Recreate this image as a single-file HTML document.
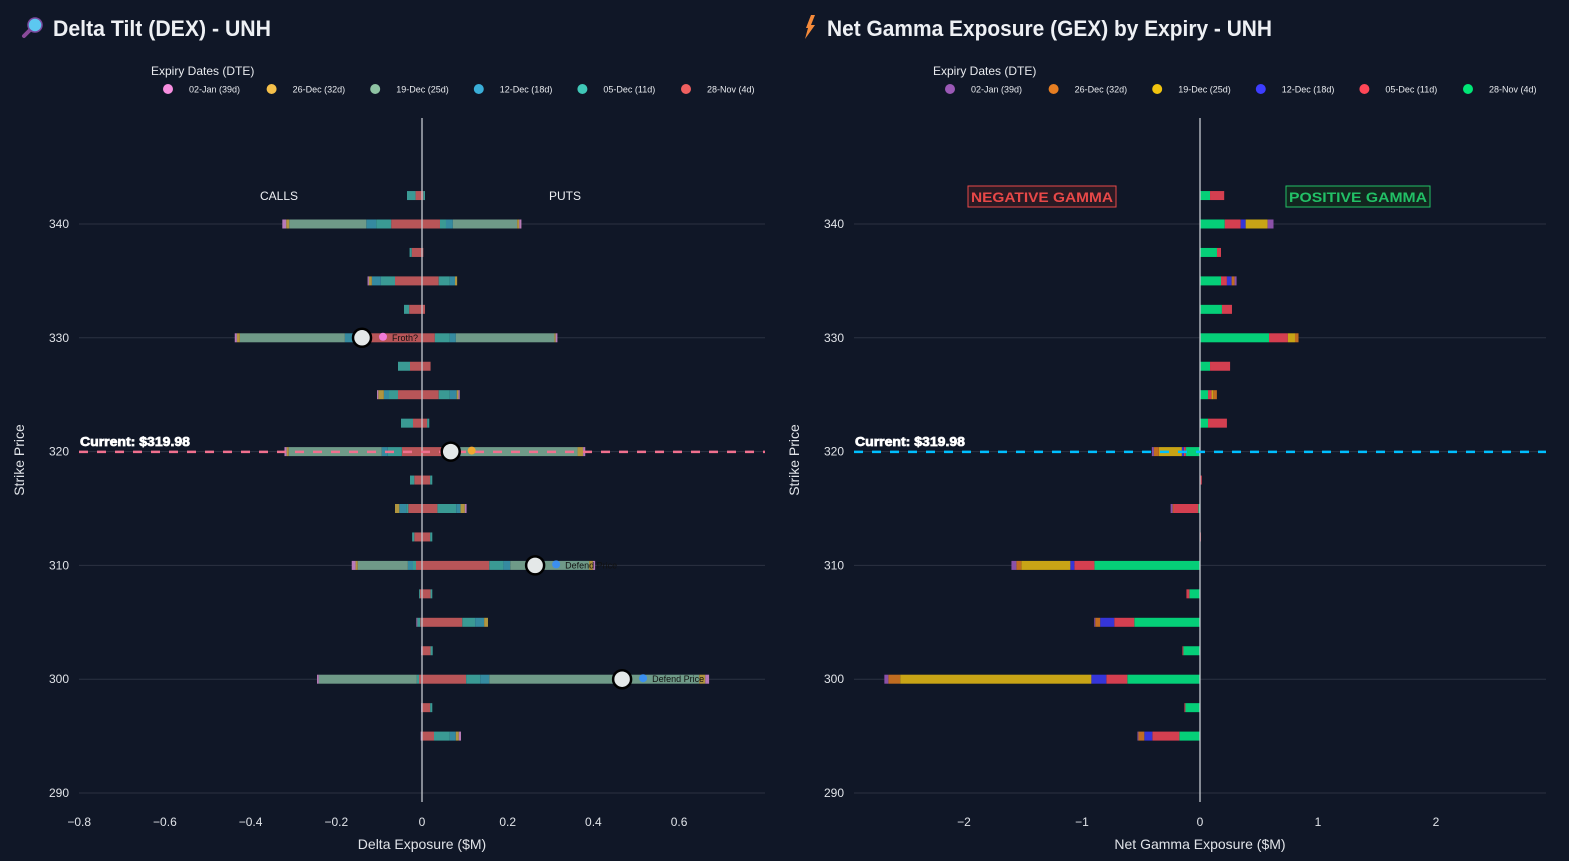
<!DOCTYPE html>
<html><head><meta charset="utf-8">
<style>
html,body{margin:0;padding:0;background:#101727;}
svg{display:block;font-family:"Liberation Sans",sans-serif;}
</style></head>
<body>
<svg id="root" width="1569" height="861" viewBox="0 0 1569 861" xmlns="http://www.w3.org/2000/svg">
<rect width="1569" height="861" fill="#101727"/>
</svg>
<script>
// ---------- shared data ----------
const strikes = [342.5,340,337.5,335,332.5,330,327.5,325,322.5,320,317.5,315,312.5,310,307.5,305,302.5,300,297.5,295];
const expiryLabels = ["28-Nov (4d)","05-Dec (11d)","12-Dec (18d)","19-Dec (25d)","26-Dec (32d)","02-Jan (39d)"];
const currentPrice = 319.98;
const yTicks = [340,330,320,310,300,290];

// ---------- DEX data (magnitudes, $M) ----------
const nov28Calls = [0.015,0.072,0.024,0.063,0.03,0.12,0.028,0.056,0.021,0.047,0.018,0.032,0.018,0.014,0.005,0.004,0,0.007,0,0];
const dec05Calls = [0.02,0.035,0.005,0.033,0.012,0.03,0.028,0.021,0.028,0.033,0.01,0.005,0.005,0.007,0.002,0.007,0,0.005,0,0];
const dec12Calls = [0,0.023,0,0.021,0,0.03,0,0.012,0,0.014,0,0.016,0,0.012,0,0,0,0,0,0];
const dec19Calls = [0,0.18,0,0,0,0.245,0,0,0,0.217,0,0,0,0.117,0,0,0,0.229,0,0];
const dec26Calls = [0,0.007,0,0.007,0,0.007,0,0.013,0,0.005,0,0.01,0,0.005,0,0,0,0,0,0];
const jan02Calls = [0,0.009,0,0.003,0,0.005,0,0.003,0,0.005,0,0,0,0.009,0,0.002,0.002,0.004,0.002,0.003];
const nov28Puts = [0.003,0.042,0.003,0.039,0.007,0.03,0.02,0.039,0.012,0.045,0.019,0.036,0.019,0.157,0.02,0.094,0.02,0.103,0.019,0.028];
const dec05Puts = [0.004,0.014,0,0.026,0,0.035,0,0.026,0.005,0.025,0.005,0.044,0.005,0.033,0.004,0.03,0.005,0.033,0.005,0.037];
const dec12Puts = [0,0.016,0,0.012,0,0.014,0,0.016,0,0.02,0,0.01,0,0.016,0,0.021,0,0.021,0,0.014];
const dec19Puts = [0,0.15,0,0,0,0.23,0,0,0,0.273,0,0,0,0.184,0,0,0,0.49,0,0];
const dec26Puts = [0,0.005,0,0.005,0,0.003,0,0.004,0,0.013,0,0.01,0,0.009,0,0.009,0,0.014,0,0.007];
const jan02Puts = [0,0.005,0,0,0,0.004,0,0.003,0,0.005,0,0.004,0,0.005,0,0,0,0.009,0,0.005];
const dexXTicks = [-0.8,-0.6,-0.4,-0.2,0,0.2,0.4,0.6];
const markerStrikes = [330,320,310,300];
const markerValues = [-0.14,0.067,0.264,0.467];
const markerLabels = ["Froth?","","Defend Price","Defend Price"];

// ---------- GEX data (signed, $M) ----------
const gexNov28 = [0.085,0.21,0.144,0.178,0.186,0.585,0.085,0.068,0.068,-0.12,0,-0.014,0,-0.895,-0.09,-0.557,-0.141,-0.616,-0.124,-0.175];
const gexDec05 = [0.12,0.135,0.034,0.05,0.085,0.16,0.17,0.03,0.16,-0.017,0.015,-0.21,0.008,-0.17,-0.025,-0.17,-0.008,-0.178,-0.008,-0.229];
const gexDec12 = [0,0.042,0,0.04,0,0,0,0,0,-0.017,0,0,0,-0.034,0,-0.119,0,-0.127,0,-0.068];
const gexDec19 = [0,0.186,0,0,0,0.06,0,0.015,0,-0.195,0,0,0,-0.415,0,0,0,-1.62,0,0];
const gexDec26 = [0,0,0,0.025,0,0.03,0,0.03,0,-0.042,0,-0.008,0,-0.042,0,-0.042,0,-0.1,0,-0.05];
const gexJan02 = [0,0.05,0,0.017,0,0,0,0,0,-0.017,0,-0.017,0,-0.042,0,-0.008,0,-0.034,0,-0.008];
const gexXTicks = [-2,-1,0,1,2];

// ---------- rendering ----------
const NS = "http://www.w3.org/2000/svg";
const root = document.getElementById("root");
function mk(tag, attrs, parent, text){
  const e = document.createElementNS(NS, tag);
  for (const k in attrs) e.setAttribute(k, attrs[k]);
  if (text !== undefined) e.textContent = text;
  (parent || root).appendChild(e);
  return e;
}
const yScale = v => 224 + (340 - v) * 11.38;
const fmt = v => (v < 0 ? "\u2212" : "") + Math.abs(v);

function drawPanel(o){
  const g = mk("g", {});
  
  
  const xs = v => o.x0 + v * o.ppu;
  const t = mk("text", {x:o.titleX, y:36, fill:"#eef0f4", "font-size":22, "font-weight":"bold", textLength:o.titleW, lengthAdjust:"spacingAndGlyphs"}, g, o.title);
  
  
  const lg = mk("g", {}, g);
  
  
  mk("text", {x:o.legX, y:75, fill:"#e8eaee", "font-size":12}, lg, "Expiry Dates (DTE)");
  for (let i = 0; i < 6; i++){
    const idx = 5 - i;
    const it = mk("g", {}, lg);
    
    
    mk("circle", {cx:o.legX + 17 + i*103.6, cy:89, r:5, fill:o.legColors[idx]}, it);
    mk("text", {x:o.legX + 38 + i*103.6, y:92.5, fill:"#e8eaee", "font-size":9}, it, expiryLabels[idx]);
  }
  yTicks.forEach(v => {
    const l = mk("line", {x1:o.left, x2:o.right, y1:yScale(v), y2:yScale(v), stroke:"#2b3242", "stroke-width":1}, g);
    
    
    const tl = mk("text", {x:o.left - 10, y:yScale(v) + 4, fill:"#e0e3e8", "font-size":12, "text-anchor":"end"}, g, String(v));
    
    
  });
  o.xticks.forEach(v => {
    const tl = mk("text", {x:xs(v), y:826, fill:"#e0e3e8", "font-size":12, "text-anchor":"middle"}, g, fmt(v));
    
    
  });
  const xt = mk("text", {x:(o.left+o.right)/2, y:849, fill:"#e0e3e8", "font-size":14, "text-anchor":"middle"}, g, o.xTitle);
  
  
  const yt = mk("text", {x:0, y:0, fill:"#e0e3e8", "font-size":14, "text-anchor":"middle", transform:`translate(${o.left-55},460) rotate(-90)`}, g, "Strike Price");
  
  
  const bh = 9;
  strikes.forEach((s, i) => {
    let pos = 0, neg = 0;
    o.series.forEach((ser, k) => {
      let v = ser[i];
      if (!v) return;
      let a, b;
      if (v > 0){ a = pos; b = pos + v; pos = b; } else { a = neg + v; b = neg; neg = a; }
      const r = mk("rect", {x:xs(a), y:yScale(s) - bh/2, width:Math.max(0.6, xs(b) - xs(a)), height:bh, fill:o.barColors[k % 6]}, g);
      
      
    });
  });
  const z = mk("line", {x1:xs(0), x2:xs(0), y1:118, y2:802, stroke:"#c8ccd2", "stroke-width":1.5, opacity:0.85}, g);
  
  
  const cl = mk("line", {x1:o.left, x2:o.right, y1:yScale(currentPrice), y2:yScale(currentPrice), stroke:o.curColor, "stroke-width":2.5, "stroke-dasharray":"9,9"}, g);
  
  
  const ct = mk("text", {x:o.left + 1, y:yScale(currentPrice) - 6, fill:"#ffffff", "font-size":13, "font-weight":"bold", stroke:"#ffffff", "stroke-width":0.7, textLength:110, lengthAdjust:"spacingAndGlyphs"}, g, "Current: $" + currentPrice.toFixed(2));
  
  
  return {g, xs};
}

const dex = drawPanel({
  name:"dex-chart", title:"Delta Tilt (DEX) - UNH", titleX:53, titleW:218, legX:151,
  left:79, right:765, x0:422, ppu:428.5, xticks:dexXTicks, xTitle:"Delta Exposure ($M)",
  legColors:["#f06060","#40c8b8","#3aaed8","#8fc4a4","#f5c04a","#f78fe0"],
  barColors:["#b85558","#3a9a94","#358aa0","#6f9a88","#b0953f","#b87ab8"],
  series:[nov28Calls.map(v=>-v),dec05Calls.map(v=>-v),dec12Calls.map(v=>-v),dec19Calls.map(v=>-v),dec26Calls.map(v=>-v),jan02Calls.map(v=>-v),
          nov28Puts,dec05Puts,dec12Puts,dec19Puts,dec26Puts,jan02Puts],
  curColor:"#f0708e"
});
let lab = mk("text", {x:279, y:200, fill:"#eef0f4", "font-size":12, "text-anchor":"middle"}, dex.g, "CALLS");


lab = mk("text", {x:565, y:200, fill:"#eef0f4", "font-size":12, "text-anchor":"middle"}, dex.g, "PUTS");


markerStrikes.forEach((s, i) => {
  const cx = dex.xs(markerValues[i]), cy = yScale(s);
  const m = mk("g", {}, dex.g);
  
  
  mk("circle", {cx, cy, r:9, fill:"#e4e8e8", stroke:"#000", "stroke-width":2.5}, m);
  const iconColor = markerLabels[i] === "Froth?" ? "#f07ad8" : (markerLabels[i] ? "#3b8ff0" : "#f0a830");
  mk("circle", {cx:cx + 21, cy:cy - 1, r:4, fill:iconColor}, m);
  if (markerLabels[i]) mk("text", {x:cx + 30, y:cy + 3, fill:"#111", "font-size":9}, m, markerLabels[i]);
});
(function(){
  const ic = mk("g", {});
  
  
  mk("line", {x1:24, y1:36, x2:30, y2:30, stroke:"#8a4a9a", "stroke-width":4, "stroke-linecap":"round"}, ic);
  mk("circle", {cx:35, cy:25, r:7, fill:"#5cc8f0", stroke:"#7a4aa0", "stroke-width":1.5}, ic);
})();

const gex = drawPanel({
  name:"gex-chart", title:"Net Gamma Exposure (GEX) by Expiry - UNH", titleX:827, titleW:445, legX:933,
  left:854, right:1546, x0:1200, ppu:118, xticks:gexXTicks, xTitle:"Net Gamma Exposure ($M)",
  legColors:["#00e676","#ff4757","#3d3dff","#f1c40f","#e67e22","#9b59b6"],
  barColors:["#05cf78","#d43f50","#3535d8","#c8a416","#c06c20","#8a50a8"],
  series:[gexNov28,gexDec05,gexDec12,gexDec19,gexDec26,gexJan02],
  curColor:"#00bfff"
});
let bx = mk("g", {}, gex.g);


mk("rect", {x:968, y:186, width:148, height:21, fill:"#2a1a24", stroke:"#e84848", "stroke-width":1}, bx);
mk("text", {x:971, y:202, fill:"#e84848", "font-size":14, "font-weight":"bold", textLength:142, lengthAdjust:"spacingAndGlyphs"}, bx, "NEGATIVE GAMMA");
bx = mk("g", {}, gex.g);


mk("rect", {x:1286, y:186, width:144, height:21, fill:"#12261f", stroke:"#22c066", "stroke-width":1}, bx);
mk("text", {x:1289, y:202, fill:"#22c066", "font-size":14, "font-weight":"bold", textLength:138, lengthAdjust:"spacingAndGlyphs"}, bx, "POSITIVE GAMMA");
(function(){
  const ic = mk("g", {});
  
  
  mk("polygon", {points:"806,28 811,15 815,15 811,25 815,25 805,39 808,28", fill:"#f58a3a"}, ic);
})();
</script>
</body></html>
